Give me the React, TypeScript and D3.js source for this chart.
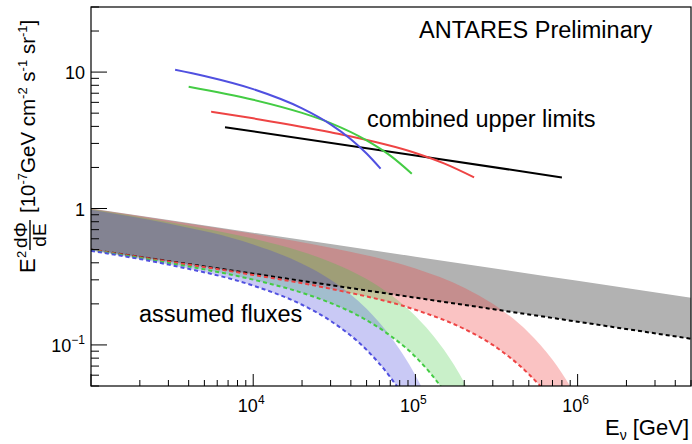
import React, { useEffect, useRef } from 'react';
import * as d3 from 'd3';

// assumed fluxes: no cutoff band (E^-2.18), upper and lower normalisation
const noCutE = [1e3, 1e4, 1e5, 1e6, 5e6];
const noCutHigh = [1.0, 0.665, 0.443, 0.295, 0.222];
const noCutLow = [0.5, 0.333, 0.222, 0.148, 0.111];

// 50 TeV cutoff band
const cut50E = [1e3, 3e3, 1e4, 2e4, 3e4, 5e4, 7e4, 1e5, 1.2e5];
const cut50High = [0.98, 0.775, 0.545, 0.394, 0.301, 0.184, 0.116, 0.06, 0.039];
const cut50Low = [0.49, 0.388, 0.272, 0.197, 0.15, 0.092, 0.058, 0.03, 0.019];

// 100 TeV cutoff band
const cut100E = [1e3, 3e3, 1e4, 2e4, 3e4, 5e4, 7e4, 1e5, 1.5e5, 2e5, 2.5e5];
const cut100High = [0.99, 0.798, 0.602, 0.482, 0.406, 0.304, 0.234, 0.163, 0.092, 0.053, 0.031];
const cut100Low = [0.495, 0.399, 0.301, 0.241, 0.203, 0.152, 0.117, 0.082, 0.046, 0.027, 0.015];

// 500 TeV cutoff band
const cut500E = [1e3, 3e3, 1e4, 3e4, 1e5, 2e5, 3e5, 5e5, 7e5, 1e6, 1.2e6];
const cut500High = [0.998, 0.818, 0.652, 0.516, 0.363, 0.263, 0.2, 0.123, 0.078, 0.04, 0.026];
const cut500Low = [0.499, 0.409, 0.326, 0.258, 0.181, 0.131, 0.1, 0.061, 0.039, 0.02, 0.013];

// combined upper limits
const ulNoCutE = [6.7e3, 1e5, 8e5];
const ulNoCut = [3.94, 2.45, 1.69];
const ul50E = [3.3e3, 5e3, 1e4, 2e4, 3e4, 4e4, 5e4, 6.1e4];
const ul50 = [10.4, 9.36, 7.5, 5.42, 4.14, 3.22, 2.53, 1.96];
const ul100E = [4e3, 1e4, 2e4, 3e4, 5e4, 7e4, 9.5e4];
const ul100 = [7.82, 6.27, 5.02, 4.23, 3.16, 2.44, 1.8];
const ul500E = [5.5e3, 1e4, 3e4, 1e5, 1.5e5, 2.3e5];
const ul500 = [5.13, 4.58, 3.62, 2.55, 2.14, 1.69];

// labelled decades
const xLabelTicks = [1e4, 1e5, 1e6];
const yLabelTicks = [0.1, 1, 10];

const W = 692;
const H = 444;
const frame = { left: 91, right: 691, top: 7, bottom: 386 };
const font = 'Liberation Sans, Arial, Helvetica, sans-serif';

const App = () => {
  const svgRef = useRef<SVGSVGElement>(null);

  useEffect(() => {
    const svg = d3.select(svgRef.current);
    svg.selectAll('*').remove();

    const x = d3.scaleLog().domain([1e3, 5e6]).range([frame.left, frame.right]);
    const y = d3.scaleLog().domain([0.05, 30]).range([frame.bottom, frame.top]);

    svg.append('defs').append('clipPath').attr('id', 'plotclip')
      .append('rect')
      .attr('x', frame.left).attr('y', frame.top)
      .attr('width', frame.right - frame.left).attr('height', frame.bottom - frame.top);

    const plot = svg.append('g').attr('clip-path', 'url(#plotclip)');

    const band = (E: number[], hi: number[], lo: number[]) =>
      d3.area<number>()
        .x(i => x(E[i]))
        .y0(i => y(lo[i]))
        .y1(i => y(hi[i]))
        .curve(d3.curveMonotoneX)(d3.range(E.length));

    const line = (E: number[], v: number[]) =>
      d3.line<number>()
        .x(i => x(E[i]))
        .y(i => y(v[i]))
        .curve(d3.curveMonotoneX)(d3.range(E.length));

    // bands: gray first, then red, green, blue translucent on top
    plot.append('path').attr('d', band(noCutE, noCutHigh, noCutLow)).attr('fill', '#b2b2b2');
    plot.append('path').attr('d', band(cut500E, cut500High, cut500Low))
      .attr('fill', 'rgb(240,60,60)').attr('fill-opacity', 0.31);
    plot.append('path').attr('d', band(cut100E, cut100High, cut100Low))
      .attr('fill', 'rgb(60,200,60)').attr('fill-opacity', 0.28);
    plot.append('path').attr('d', band(cut50E, cut50High, cut50Low))
      .attr('fill', 'rgb(60,60,220)').attr('fill-opacity', 0.28);

    const dashed = [
      { E: noCutE, v: noCutLow, c: '#000000' },
      { E: cut500E, v: cut500Low, c: '#ee4444' },
      { E: cut100E, v: cut100Low, c: '#44cc44' },
      { E: cut50E, v: cut50Low, c: '#5050e0' },
    ];
    dashed.forEach(d => {
      plot.append('path').attr('d', line(d.E, d.v))
        .attr('fill', 'none').attr('stroke', d.c)
        .attr('stroke-width', 2).attr('stroke-dasharray', '4,3');
    });

    const limits = [
      { E: ulNoCutE, v: ulNoCut, c: '#000000' },
      { E: ul500E, v: ul500, c: '#ee4444' },
      { E: ul100E, v: ul100, c: '#44cc44' },
      { E: ul50E, v: ul50, c: '#5050e0' },
    ];
    limits.forEach(d => {
      plot.append('path').attr('d', line(d.E, d.v))
        .attr('fill', 'none').attr('stroke', d.c).attr('stroke-width', 2);
    });

    // frame
    svg.append('rect')
      .attr('x', frame.left).attr('y', frame.top)
      .attr('width', frame.right - frame.left).attr('height', frame.bottom - frame.top)
      .attr('fill', 'none').attr('stroke', '#000').attr('stroke-width', 1.2);

    const isMajor = (v: number) => Math.abs(Math.log10(v) - Math.round(Math.log10(v))) < 1e-6;

    // x ticks (inward, bottom only)
    const xt = svg.append('g');
    x.ticks().forEach(t => {
      const len = isMajor(t) ? 12 : 6;
      xt.append('line')
        .attr('x1', x(t)).attr('x2', x(t))
        .attr('y1', frame.bottom).attr('y2', frame.bottom - len)
        .attr('stroke', '#000');
    });
    xLabelTicks.forEach(t => {
      const lab = xt.append('text')
        .attr('x', x(t) - 2).attr('y', 412)
        .attr('text-anchor', 'middle')
        .attr('font-family', font).attr('font-size', 18);
      lab.append('tspan').text('10');
      lab.append('tspan').attr('font-size', 12).attr('dy', -8.5)
        .text(String(Math.round(Math.log10(t))));
    });

    // y ticks (inward, left only)
    const yt = svg.append('g');
    y.ticks().forEach(t => {
      const len = isMajor(t) ? 16 : 8;
      yt.append('line')
        .attr('x1', frame.left).attr('x2', frame.left + len)
        .attr('y1', y(t)).attr('y2', y(t))
        .attr('stroke', '#000');
    });
    yLabelTicks.forEach(t => {
      const p = Math.round(Math.log10(t));
      const lab = yt.append('text')
        .attr('x', 85).attr('y', y(t) + 7)
        .attr('text-anchor', 'end')
        .attr('font-family', font).attr('font-size', 18);
      if (p === 0) lab.text('1');
      else if (p === 1) lab.text('10');
      else {
        lab.append('tspan').text('10');
        lab.append('tspan').attr('font-size', 12).attr('dy', -8).text('\u2212' + String(-p));
      }
    });

    // x title
    const xTitle = svg.append('text')
      .attr('x', 689).attr('y', 435)
      .attr('text-anchor', 'end')
      .attr('font-family', font).attr('font-size', 22);
    xTitle.append('tspan').text('E');
    xTitle.append('tspan').attr('font-size', 14).attr('dy', 5).text('\u03bd');
    xTitle.append('tspan').attr('dy', -5).text(' [GeV]');

    // y title, rotated
    const yTitle = svg.append('g')
      .attr('transform', 'translate(35,273) rotate(-90)')
      .attr('font-family', font);
    yTitle.append('text').attr('x', 0).attr('y', 0).attr('font-size', 22).text('E');
    yTitle.append('text').attr('x', 15).attr('y', -9).attr('font-size', 13).text('2');
    yTitle.append('text').attr('x', 38).attr('y', -8).attr('font-size', 19)
      .attr('text-anchor', 'middle').text('d\u03a6');
    yTitle.append('line').attr('x1', 23).attr('x2', 53).attr('y1', -5).attr('y2', -5)
      .attr('stroke', '#000').attr('stroke-width', 1.4);
    yTitle.append('text').attr('x', 38).attr('y', 11).attr('font-size', 19)
      .attr('text-anchor', 'middle').text('dE');
    const unit = yTitle.append('text').attr('x', 60).attr('y', 0).attr('font-size', 20.5);
    unit.append('tspan').text('[10');
    unit.append('tspan').attr('font-size', 13).attr('dy', -8).text('-7');
    unit.append('tspan').attr('dy', 8).text('GeV cm');
    unit.append('tspan').attr('font-size', 13).attr('dy', -8).text('-2');
    unit.append('tspan').attr('dy', 8).text(' s');
    unit.append('tspan').attr('font-size', 13).attr('dy', -8).text('-1');
    unit.append('tspan').attr('dy', 8).text(' sr');
    unit.append('tspan').attr('font-size', 13).attr('dy', -8).text('-1');
    unit.append('tspan').attr('dy', 8).text(']');

    // annotations
    const note = (tx: number, ty: number, s: string) =>
      svg.append('text').attr('x', tx).attr('y', ty)
        .attr('font-family', font).attr('font-size', 23.5).text(s);
    note(419, 38, 'ANTARES Preliminary');
    note(367, 127, 'combined upper limits');
    note(139, 322, 'assumed fluxes');
  }, []);

  return (
    <svg ref={svgRef} width={W} height={H}
      style={{ position: 'absolute', left: 0, top: 0, background: '#fff' }} />
  );
};

export default App;
